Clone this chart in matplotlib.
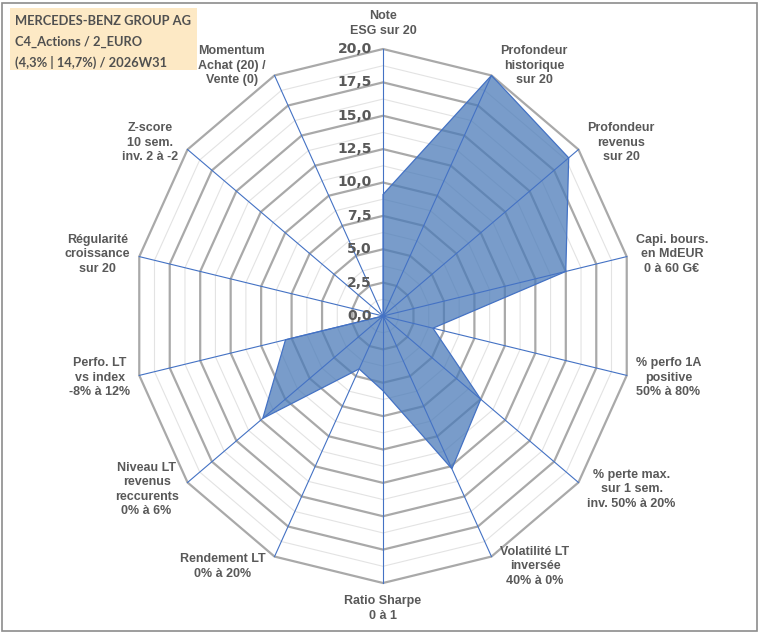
import numpy as np
import matplotlib.pyplot as plt
from matplotlib.patches import Polygon, Rectangle

# axes of the radar, clockwise from the top
categories = [
    "Note\nESG sur 20",
    "Profondeur\nhistorique\nsur 20",
    "Profondeur\nrevenus\nsur 20",
    "Capi. bours.\nen MdEUR\n0 à 60 G€",
    "% perfo 1A\npositive\n50% à 80%",
    "% perte max.\nsur 1 sem.\ninv. 50% à 20%",
    "Volatilité LT\ninversée\n40% à 0%",
    "Ratio Sharpe\n0 à 1",
    "Rendement LT\n0% à 20%",
    "Niveau LT\nrevenus\nreccurents\n0% à 6%",
    "Perfo. LT\nvs index\n-8% à 12%",
    "Régularité\ncroissance\nsur 20",
    "Z-score\n10 sem.\ninv. 2 à -2",
    "Momentum\nAchat (20) /\nVente (0)",
]
scores = [9.1, 20.0, 19.0, 15.0, 4.1, 10.0, 12.7, 5.6, 4.4, 12.3, 8.0, 0.0, 0.0, 0.0]
major_ticks = [0.0, 2.5, 5.0, 7.5, 10.0, 12.5, 15.0, 17.5, 20.0]
minor_ticks = [1.25, 3.75, 6.25, 8.75, 11.25, 13.75, 16.25, 18.75]
title_lines = ["MERCEDES-BENZ GROUP AG", "C4_Actions / 2_EURO", "(4,3% | 14,7%) / 2026W31"]

TXT = "#595959"
W, H = 760, 633

n = len(categories)
theta = np.arange(n) * 2 * np.pi / n


def to_xy(r):
    r = np.asarray(r, dtype=float)
    return r * np.sin(theta), r * np.cos(theta)


fig = plt.figure(figsize=(W / 100, H / 100), dpi=100)
# centre of the web sits at pixel (383, 316); x is a bit squeezed like the original
cx, cy = 383, 316
sx, sy = 250 / 20, 267 / 20
xl, yl = 24, 22
ax = fig.add_axes([(cx - xl * sx) / W, (H - cy - yl * sy) / H, 2 * xl * sx / W, 2 * yl * sy / H])
ax.set_xlim(-xl, xl)
ax.set_ylim(-yl, yl)
ax.axis("off")

# web gridlines
for r in minor_ticks:
    x, y = to_xy(np.full(n, r))
    ax.add_patch(Polygon(np.c_[x, y], closed=True, fill=False, ec="#e3e3e3", lw=0.8, zorder=1))
for r in major_ticks[1:]:
    x, y = to_xy(np.full(n, r))
    ax.add_patch(Polygon(np.c_[x, y], closed=True, fill=False, ec="#a9a9a9", lw=1.6, zorder=2))

# data area
x, y = to_xy(scores)
ax.add_patch(Polygon(np.c_[x, y], closed=True, fc="#4a7ab8", alpha=0.74, ec="none", zorder=3))
ax.add_patch(Polygon(np.c_[x, y], closed=True, fill=False, ec="#4472c4", lw=0.9, zorder=5))

# spokes
ox, oy = to_xy(np.full(n, major_ticks[-1]))
for i in range(n):
    ax.plot([0, ox[i]], [0, oy[i]], color="#4472c4", lw=0.8, zorder=4)

# radial tick labels
for r in major_ticks:
    ax.annotate(f"{r:.1f}".replace(".", ","), (0, r), xytext=(-11, 0), textcoords="offset pixels",
                ha="right", va="center", fontsize=10, fontweight="bold", color=TXT,
                family="DejaVu Sans", zorder=6)

# category labels
for i, lab in enumerate(categories):
    ux, uy = np.sin(theta[i]), np.cos(theta[i])
    if uy > 0.95:
        ha, va, dx, dy = "center", "bottom", 0, 12
    elif uy < -0.95:
        ha, va, dx, dy = "center", "top", 0, -12
    else:
        ha = "left" if ux > 0 else "right"
        va = "center"
        dx, dy = 9 * np.sign(ux), 11 * uy
    ax.annotate(lab, (ox[i], oy[i]), xytext=(dx, dy), textcoords="offset pixels",
                ha=ha, va=va, multialignment="center", fontsize=9, fontweight="bold",
                color=TXT, family="Liberation Sans", linespacing=1.28,
                annotation_clip=False, zorder=6)

# title box in the top-left corner
fig.patches.append(Rectangle((10 / W, 1 - 70 / H), 187 / W, 62 / H, transform=fig.transFigure,
                             fc="#fde6bd", ec="none", alpha=0.88, zorder=10))
for k, line in enumerate(title_lines):
    fig.text(15 / W, 1 - (21 + 20.5 * k) / H, line, ha="left", va="center", fontsize=9.3,
             color="#505050", family="Lato", fontweight="bold", zorder=11)

# outer frame
fig.patches.append(Rectangle((2 / W, 2 / H), 755 / W, 628 / H, transform=fig.transFigure,
                             fill=False, ec="#8c8c8c", lw=1.2, zorder=12))

fig.savefig("out.png", dpi=100)
